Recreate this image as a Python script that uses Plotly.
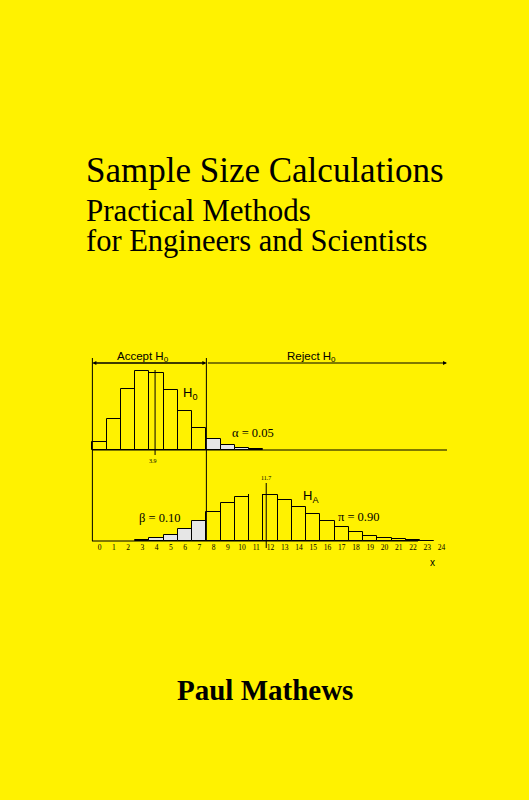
import plotly.graph_objects as go

x_h0 = list(range(0, 12))
p_h0 = [0.020, 0.079, 0.154, 0.200, 0.195, 0.152, 0.099, 0.055, 0.027, 0.012, 0.0045, 0.0016]
x_ha = list(range(3, 24))
p_ha = [0.0022, 0.0065, 0.0151, 0.0295, 0.0494, 0.0722, 0.0939, 0.1098, 0.1168, 0.1139,
        0.1025, 0.0857, 0.0668, 0.0489, 0.0336, 0.0219, 0.0135, 0.0079, 0.0044, 0.0023, 0.0012]
crit = 7.5
mean_h0, mean_ha = 3.9, 11.7
tick_vals = list(range(0, 25))

BG = "#FFF200"
GRAY = "#E6E6E6"
W, H = 529, 800
PX = 14.25
X0 = 99.5
def xr(px): return (px - X0) / PX
def py(p): return 1 - p / H

fig = go.Figure()
fig.add_bar(x=x_h0, y=p_h0, width=1, xaxis="x2", yaxis="y2",
            marker=dict(color=[GRAY if v > crit else "rgba(0,0,0,0)" for v in x_h0],
                        line=dict(color="black", width=1)))
fig.add_bar(x=x_ha, y=p_ha, width=1, xaxis="x", yaxis="y",
            marker=dict(color=[GRAY if v < crit else "rgba(0,0,0,0)" for v in x_ha],
                        line=dict(color="black", width=1)))

rng = [xr(0), xr(W)]
fig.update_layout(
    width=W, height=H, margin=dict(l=0, r=0, t=0, b=0),
    paper_bgcolor=BG, plot_bgcolor="rgba(0,0,0,0)", showlegend=False, bargap=0,
    xaxis=dict(range=rng, domain=[0, 1], anchor="y", tickvals=tick_vals, ticks="",
               showgrid=False, zeroline=False, showline=False,
               tickfont=dict(family="Liberation Serif", size=7.5, color="black")),
    yaxis=dict(range=[0, 0.1168], domain=[py(541), py(494)], visible=False),
    xaxis2=dict(range=rng, matches="x", anchor="y2", visible=False),
    yaxis2=dict(range=[0, 0.2025], domain=[py(450), py(370)], visible=False),
)

L = dict(color="black", width=1)
shapes = [
    dict(type="line", xref="paper", yref="paper", x0=92/W, x1=447/W, y0=py(450), y1=py(450), line=L),
    dict(type="line", xref="paper", yref="paper", x0=92/W, x1=418/W, y0=py(541), y1=py(541), line=L),
    dict(type="line", xref="x", yref="paper", x0=-0.5, x1=-0.5, y0=py(541), y1=py(358), line=L),
    dict(type="line", xref="x", yref="paper", x0=crit, x1=crit, y0=py(541), y1=py(358), line=L),
    dict(type="line", xref="x", yref="paper", x0=mean_h0, x1=mean_h0, y0=py(455), y1=py(370), line=L),
    dict(type="line", xref="x", yref="paper", x0=mean_ha, x1=mean_ha, y0=py(548), y1=py(483), line=L),
]
fig.update_layout(shapes=shapes)

def arrow(x_from, x_to, y):
    fig.add_annotation(xref="x", yref="paper", axref="x", ayref="pixel", x=x_to, y=py(y),
                       ax=x_from, ay=0, showarrow=True, arrowhead=2, arrowsize=0.8,
                       arrowwidth=1, arrowcolor="black", text="")
arrow(crit, -0.5, 363); arrow(-0.5, crit, 363)
arrow(crit, xr(447), 363)

def txt(x, y, s, size, fam="Liberation Sans", xanchor="center"):
    fig.add_annotation(xref="paper", yref="paper", x=x/W, y=py(y), text=s, showarrow=False,
                       xanchor=xanchor, yanchor="middle",
                       font=dict(family=fam, size=size, color="black"))

txt(143, 357, "Accept H<sub>0</sub>", 11.5)
txt(311, 357, "Reject H<sub>0</sub>", 11.5)
txt(190, 394, "H<sub>0</sub>", 13)
txt(253, 433, "α = 0.05", 12.5, "Liberation Serif")
txt(153, 461, "3.9", 6, "Liberation Serif")
txt(266, 478, "11.7", 6, "Liberation Serif")
txt(311, 496, "H<sub>A</sub>", 13)
txt(160, 518, "β = 0.10", 12.5, "Liberation Serif")
txt(359, 517, "π = 0.90", 12.5, "Liberation Serif")
txt(432, 562, "x", 10)

txt(84, 170, "Sample Size Calculations", 35, "Liberation Serif", xanchor="left")
txt(84, 211, "Practical Methods", 31, "Liberation Serif", xanchor="left")
txt(84, 241, "for Engineers and Scientists", 30.5, "Liberation Serif", xanchor="left")
txt(265, 690, "<b>Paul Mathews</b>", 29, "Liberation Serif")

fig.write_html("out.html", config={"displayModeBar": False},
               post_script="document.body.style.margin='0';document.body.style.overflow='hidden';")
